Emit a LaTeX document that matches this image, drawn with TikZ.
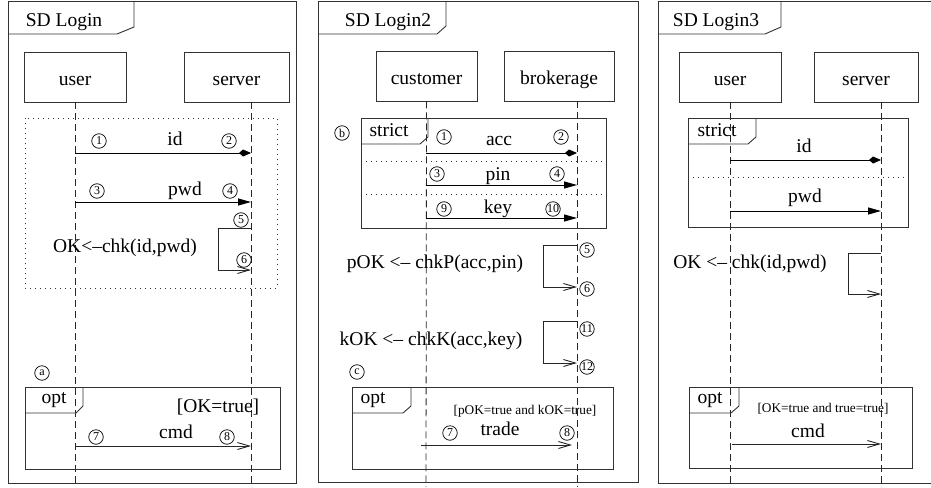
\documentclass[tikz,border=0pt]{standalone}
\usepackage{fontspec}
\setmainfont{Liberation Serif}
\usetikzlibrary{arrows.meta}
\newcommand{\diagfont}{\fontsize{19.5}{22}\selectfont}
\newcommand{\guardfont}{\fontsize{13.3}{15}\selectfont}
\newcommand{\seqfont}{\fontsize{12}{12}\selectfont}
\tikzset{
  frame/.style = {
    draw = black!80,
    line width = 0.9pt
  },
  % dotted region and separators
  region/.style = {
    draw = black!80,
    line width = 0.9pt,
    dash pattern = on 1pt off 4pt
  },
  lifeline/.style = {
    draw = black!85,
    line width = 0.8pt,
    dash pattern = on 7pt off 4pt
  },
  lifebox/.style = {
    frame,
    rectangle,
    minimum height = 50pt,
    text height = 17pt,
    text depth = 0pt,
    inner sep = 0pt,
    font = \diagfont
  },
  lbl/.style = {
    anchor = base,
    inner sep = 0pt,
    font = \diagfont
  },
  guard/.style = {
    lbl,
    font = \guardfont
  },
  seqno/.style = {
    draw = black,
    circle,
    line width = 0.7pt,
    minimum size = 14.5pt,
    inner sep = 0pt,
    font = \seqfont
  }
}
\tikzset {
  % synchronous call
  synch/.style = {
    draw = black,
    line width = 1pt,
    -{Kite[length=12pt,width=7pt,inset=4pt]}
  },
  % asynchronous call
  asynch/.style = {
    draw = black,
    line width = 1pt,
    -{Triangle[length=13pt,width=7pt]}
  },
  % open arrow
  reply/.style = {
    draw = black!85,
    line width = 0.9pt,
    -{Straight Barb[length=12pt,width=7pt]}
  }
}

\begin{document}
\begin{tikzpicture}[x=1pt,y=-1pt]
  \useasboundingbox (0,0) rectangle (931,487);
  \clip (0,0) rectangle (931,487);

  % ---------- SD Login ----------
  \draw[frame] (8,1) rectangle (296,483);
  \draw[frame] (8,34) -- (117,34) -- (134,27) -- (134,1);
  \node[lbl] (title1) at (64,27) {SD Login};
  \node[lifebox, minimum width=102pt] (user1) at (75,77) {user};
  \node[lifebox, minimum width=105pt] (server1) at (236.5,77) {server};
  \coordinate (user1-end) at (75,487);
  \coordinate (server1-top) at (251,102);
  \coordinate (server1-end) at (251,487);
  \draw[lifeline] (user1.south) -- (user1-end);
  \draw[lifeline] (server1-top) -- (server1-end);

  \draw[region] (25,118) rectangle (277,288);
  \foreach \m/\y in {id1/153, pwd1/202, cmd1/446} {
    \coordinate (\m-a) at (75,\y);
    \coordinate (\m-b) at (251,\y);
  }
  \draw[synch] (id1-a) -- (id1-b);
  \draw[asynch] (pwd1-a) -- (pwd1-b);
  \node[lbl] (id1) at (175,145) {id};
  \node[lbl] (pwd1) at (185,195) {pwd};

  \coordinate (chk1-a) at (251,228);
  \coordinate (chk1-p) at (218,228);
  \coordinate (chk1-q) at (218,270);
  \coordinate (chk1-b) at (251,270);
  \draw[reply] (chk1-a) -- (chk1-p) -- (chk1-q) -- (chk1-b);
  \node[lbl] (chk1) at (125,252) {OK<--chk(id,pwd)};

  \draw[frame] (25,387) rectangle (280,469);
  \draw[frame] (25,413) -- (76,413) -- (83,406) -- (83,387);
  \node[lbl] (opt1) at (54,403) {opt};
  \node[lbl] (guard1) at (218,412) {[OK=true]};
  \draw[reply] (cmd1-a) -- (cmd1-b);
  \node[lbl] (cmd1) at (176,438) {cmd};

  \foreach \t/\x/\y in {1/99/141, 2/229/141, 3/97/191, 4/230/191,
                        5/241/220, 6/244/260, 7/96/437, 8/227/437, a/42/373}
    \node[seqno] (n1-\t) at (\x,\y) {\t};

  % ---------- SD Login2 ----------
  \draw[frame] (318,1) rectangle (638,482);
  \draw[frame] (318,34) -- (437,34) -- (446,26) -- (446,1);
  \node[lbl] (title2) at (388,27) {SD Login2};
  \node[lifebox, minimum width=101pt] (cust2) at (426.5,76) {customer};
  \node[lifebox, minimum width=110pt] (brok2) at (559,76) {brokerage};
  \coordinate (cust2-end) at (426,487);
  \coordinate (brok2-top) at (577,101);
  \coordinate (brok2-end) at (577,487);
  \draw[lifeline] (cust2.south) -- (cust2-end);
  \draw[lifeline] (brok2-top) -- (brok2-end);

  \draw[frame] (361,118) rectangle (606,228);
  \draw[frame] (361,144) -- (420,144) -- (428,137) -- (428,118);
  \node[lbl] (strict2) at (389,136) {strict};
  \coordinate (sep2a-l) at (361,161);
  \coordinate (sep2a-r) at (606,161);
  \coordinate (sep2b-l) at (361,194);
  \coordinate (sep2b-r) at (606,194);
  \draw[region] (sep2a-l) -- (sep2a-r);
  \draw[region] (sep2b-l) -- (sep2b-r);

  \foreach \m/\y in {acc2/153, pin2/185, key2/218} {
    \coordinate (\m-a) at (426,\y);
    \coordinate (\m-b) at (577,\y);
  }
  \draw[synch] (acc2-a) -- (acc2-b);
  \draw[asynch] (pin2-a) -- (pin2-b);
  \draw[asynch] (key2-a) -- (key2-b);
  \node[lbl] (acc2) at (499,145) {acc};
  \node[lbl] (pin2) at (498,180) {pin};
  \node[lbl] (key2) at (498,213) {key};

  \coordinate (chkp2-a) at (577,245);
  \coordinate (chkp2-p) at (543,245);
  \coordinate (chkp2-q) at (543,287);
  \coordinate (chkp2-b) at (577,287);
  \draw[reply] (chkp2-a) -- (chkp2-p) -- (chkp2-q) -- (chkp2-b);
  \node[lbl] (chkp2) at (435,268) {pOK <-- chkP(acc,pin)};

  \coordinate (chkk2-a) at (577,321);
  \coordinate (chkk2-p) at (543,321);
  \coordinate (chkk2-q) at (543,363);
  \coordinate (chkk2-b) at (577,363);
  \draw[reply] (chkk2-a) -- (chkk2-p) -- (chkk2-q) -- (chkk2-b);
  \node[lbl] (chkk2) at (431,345) {kOK <-- chkK(acc,key)};

  \draw[frame] (352,387) rectangle (613,469);
  \draw[frame] (352,413) -- (403,413) -- (411,406) -- (411,387);
  \node[lbl] (opt2) at (373,403) {opt};
  \node[guard] (guard2) at (525,414) {[pOK=true and kOK=true]};
  \coordinate (trade2-a) at (421,445);
  \coordinate (trade2-b) at (572,445);
  \draw[reply] (trade2-a) -- (trade2-b);
  \node[lbl] (trade2) at (500,435) {trade};

  \foreach \t/\x/\y in {1/444/137, 2/561/137, 3/437/174, 4/557/174,
                        9/444/209, 10/553/209, 5/587/250, 6/587/289,
                        11/587/329, 12/587/367, 7/450/433, 8/567/433,
                        b/342/133, c/357/372}
    \node[seqno] (n2-\t) at (\x,\y) {\t};

  % ---------- SD Login3 ----------
  \draw[frame] (658,1) rectangle (945,483);
  \draw[frame] (658,34) -- (765,34) -- (781,27) -- (781,1);
  \node[lbl] (title3) at (716,27) {SD Login3};
  \node[lifebox, minimum width=102pt] (user3) at (730,77) {user};
  \node[lifebox, minimum width=104pt] (server3) at (866,77) {server};
  \coordinate (user3-end) at (730,487);
  \coordinate (server3-top) at (881,102);
  \coordinate (server3-end) at (881,487);
  \draw[lifeline] (user3.south) -- (user3-end);
  \draw[lifeline] (server3-top) -- (server3-end);

  \draw[frame] (688,118) rectangle (908,227);
  \draw[frame] (688,144) -- (748,144) -- (756,137) -- (756,118);
  \node[lbl] (strict3) at (717,136) {strict};
  \coordinate (sep3-l) at (688,177);
  \coordinate (sep3-r) at (908,177);
  \draw[region] (sep3-l) -- (sep3-r);

  \foreach \m/\y in {id3/160, pwd3/211} {
    \coordinate (\m-a) at (730,\y);
    \coordinate (\m-b) at (881,\y);
  }
  \draw[synch] (id3-a) -- (id3-b);
  \draw[asynch] (pwd3-a) -- (pwd3-b);
  \node[lbl] (id3) at (804,152) {id};
  \node[lbl] (pwd3) at (805,202) {pwd};

  \coordinate (chk3-a) at (881,253);
  \coordinate (chk3-p) at (848,253);
  \coordinate (chk3-q) at (848,294);
  \coordinate (chk3-b) at (881,294);
  \draw[reply] (chk3-a) -- (chk3-p) -- (chk3-q) -- (chk3-b);
  \node[lbl] (chk3) at (750,268) {OK <-- chk(id,pwd)};

  \draw[frame] (689,387) rectangle (912,468);
  \draw[frame] (689,413) -- (731,413) -- (739,406) -- (739,387);
  \node[lbl] (opt3) at (710,403) {opt};
  \node[guard] (guard3) at (823,412) {[OK=true and true=true]};
  \coordinate (cmd3-a) at (732,444);
  \coordinate (cmd3-b) at (881,444);
  \draw[reply] (cmd3-a) -- (cmd3-b);
  \node[lbl] (cmd3) at (808,437) {cmd};
\end{tikzpicture}
\end{document}
